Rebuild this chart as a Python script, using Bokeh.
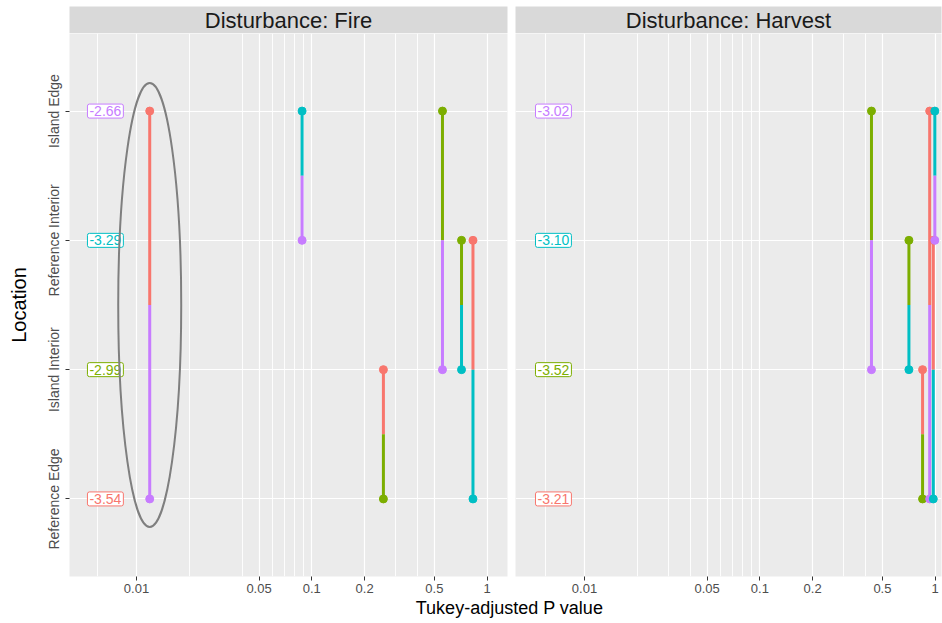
import math
from bokeh.plotting import figure
from bokeh.models import (Range1d, FixedTicker, NumeralTickFormatter, ColumnDataSource, Label)
from bokeh.layouts import row, column
from bokeh.embed import file_html
from bokeh.resources import INLINE
from bokeh.core.properties import value

# ---------------- data ----------------
locations = ["Reference Edge", "Island Interior", "Reference Interior", "Island Edge"]  # bottom -> top
loc_colors = ["#F8766D", "#7CAE00", "#00BFC4", "#C77CFF"]

x_breaks = [0.01, 0.05, 0.1, 0.2, 0.5, 1]
x_minor_fire = [0.006, 0.02, 0.04, 0.06, 0.07, 0.08, 0.09, 0.3, 0.4]
x_minor_harvest = [0.006, 0.02, 0.03, 0.04, 0.06, 0.07, 0.08, 0.09, 0.3, 0.4]

panels = ["Disturbance: Fire", "Disturbance: Harvest"]

fire_loc1 = ["Island Edge", "Island Edge", "Island Interior", "Island Edge", "Reference Interior", "Reference Interior"]
fire_loc2 = ["Reference Edge", "Reference Interior", "Reference Edge", "Island Interior", "Island Interior", "Reference Edge"]
fire_p = [0.0119, 0.088, 0.256, 0.556, 0.714, 0.83]

harvest_loc1 = ["Island Edge", "Reference Interior", "Island Interior", "Island Edge", "Reference Interior", "Island Edge"]
harvest_loc2 = ["Island Interior", "Island Interior", "Reference Edge", "Reference Edge", "Reference Edge", "Reference Interior"]
harvest_p = [0.433, 0.708, 0.847, 0.93, 0.975, 0.995]

fire_means = [-3.54, -2.99, -3.29, -2.66]      # same order as locations
harvest_means = [-3.21, -3.52, -3.10, -3.02]

# highlighted comparison in the fire panel (index into fire lists)
highlight_idx = 0

FONT = "Liberation Sans"
PANEL_BG = "#EBEBEB"
STRIP_BG = "#D9D9D9"
LABEL_X = 0.00665


def ypos(loc):
    return locations.index(loc) + 1


def col(loc):
    return loc_colors[locations.index(loc)]


def build_panel(loc1, loc2, pvals, means, minor, xr, width, show_y, border_left, border_right):
    p = figure(width=width, height=565, x_axis_type="log", x_range=xr,
               y_range=Range1d(0.4, 4.6), output_backend="svg", toolbar_location=None,
               min_border_left=border_left, min_border_right=border_right,
               min_border_top=0, min_border_bottom=22,
               background_fill_color=PANEL_BG, border_fill_color="white",
               outline_line_color=None,
               y_axis_location="left" if show_y else None)
    # grids
    p.xaxis.ticker = FixedTicker(ticks=x_breaks, minor_ticks=minor)
    p.xaxis.formatter = NumeralTickFormatter(format="0.[00]")
    p.xgrid.grid_line_color = "white"
    p.xgrid.grid_line_width = 1.2
    p.xgrid.minor_grid_line_color = "white"
    p.xgrid.minor_grid_line_width = 0.9
    p.ygrid.ticker = FixedTicker(ticks=[1, 2, 3, 4])
    p.ygrid.grid_line_color = "white"
    p.ygrid.grid_line_width = 1.2

    p.xaxis.axis_line_color = None
    p.xaxis.major_tick_out = 4
    p.xaxis.major_tick_in = 0
    p.xaxis.minor_tick_out = 0
    p.xaxis.minor_tick_in = 0
    p.xaxis.major_tick_line_color = "#333333"
    p.xaxis.major_label_text_font = FONT
    p.xaxis.major_label_text_font_size = "13px"
    p.xaxis.major_label_text_color = "#4D4D4D"
    p.xaxis.major_label_standoff = 3

    if show_y:
        p.yaxis.ticker = FixedTicker(ticks=[1, 2, 3, 4])
        p.yaxis.major_label_overrides = {i + 1: loc for i, loc in enumerate(locations)}
        p.yaxis.major_label_orientation = "parallel"
        p.yaxis.axis_line_color = None
        p.yaxis.major_tick_out = 4
        p.yaxis.major_tick_in = 0
        p.yaxis.minor_tick_out = 0
        p.yaxis.minor_tick_in = 0
        p.yaxis.major_tick_line_color = "#333333"
        p.yaxis.major_label_text_font = FONT
        p.yaxis.major_label_text_font_size = "14px"
        p.yaxis.major_label_text_color = "#4D4D4D"
        p.yaxis.major_label_standoff = 3
        p.yaxis.axis_label = "Location"
        p.yaxis.axis_label_text_font = FONT
        p.yaxis.axis_label_text_font_size = "20px"
        p.yaxis.axis_label_text_font_style = "normal"
        p.yaxis.axis_label_text_color = "black"
        p.yaxis.axis_label_standoff = 14

    # half segments + points
    sx, sy0, sy1, sc = [], [], [], []
    px, py, pc = [], [], []
    for a, b, pv in zip(loc1, loc2, pvals):
        ya, yb = ypos(a), ypos(b)
        ym = (ya + yb) / 2
        sx += [pv, pv]
        sy0 += [ya, yb]
        sy1 += [ym, ym]
        sc += [col(b), col(a)]
        px += [pv, pv]
        py += [ya, yb]
        pc += [col(b), col(a)]
    p.segment(x0="x", y0="y0", x1="x", y1="y1", color="c", line_width=3,
              source=ColumnDataSource(dict(x=sx, y0=sy0, y1=sy1, c=sc)))
    p.scatter(x="x", y="y", color="c", size=8,
              source=ColumnDataSource(dict(x=px, y=py, c=pc)))

    # mean labels
    lab = ColumnDataSource(dict(
        x=[LABEL_X] * len(locations),
        y=[i + 1 for i in range(len(locations))],
        t=["%.2f" % m for m in means],
        c=loc_colors))
    p.text(x="x", y="y", text="t", source=lab, text_color="c",
           border_line_color="c", border_line_width=1,
           background_fill_color="white",
           text_align="center", text_baseline="middle",
           text_font=value(FONT), text_font_size="14px",
           padding=2, border_radius=2)
    return p


fire = build_panel(fire_loc1, fire_loc2, fire_p, fire_means, x_minor_fire,
                   Range1d(0.00415, 1.306), 515, True, 69, 8)
harvest = build_panel(harvest_loc1, harvest_loc2, harvest_p, harvest_means, x_minor_harvest,
                      Range1d(0.00404, 1.086), 427, False, 0, 1)

# highlight ellipse around the significant comparison
h1, h2 = fire_loc1[highlight_idx], fire_loc2[highlight_idx]
fire.ellipse(x=[fire_p[highlight_idx]], y=[(ypos(h1) + ypos(h2)) / 2],
             width=63, height=444, width_units="screen", height_units="screen",
             fill_alpha=0, line_color="#7F7F7F", line_width=2)


def strip(text, width, border_left, border_right):
    s = figure(width=width, height=33, x_range=Range1d(0, 1), y_range=Range1d(0, 1),
               output_backend="svg", toolbar_location=None,
               min_border_left=border_left, min_border_right=border_right,
               min_border_top=6, min_border_bottom=0,
               background_fill_color=STRIP_BG, border_fill_color="white",
               outline_line_color=None, x_axis_location=None, y_axis_location=None)
    s.xgrid.visible = False
    s.ygrid.visible = False
    s.add_layout(Label(x=0.5, y=0.5, text=text, text_align="center", text_baseline="middle",
                       text_font=FONT, text_font_size="22px", text_color="#1A1A1A"))
    return s


strip_fire = strip(panels[0], 515, 69, 8)
strip_harvest = strip(panels[1], 427, 0, 1)

xlab = figure(width=942, height=25, x_range=Range1d(0, 1), y_range=Range1d(0, 1),
              output_backend="svg", toolbar_location=None, min_border=0,
              border_fill_color="white", background_fill_color="white",
              outline_line_color=None, x_axis_location=None, y_axis_location=None)
xlab.xgrid.visible = False
xlab.ygrid.visible = False
xlab.add_layout(Label(x=509, y=16, x_units="screen", y_units="screen",
                      text="Tukey-adjusted P value", text_align="center",
                      text_baseline="middle", text_font=FONT,
                      text_font_size="18px", text_color="black"))

layout = column(row(strip_fire, strip_harvest), row(fire, harvest), xlab)

open("out.html", "w").write(file_html(layout, INLINE))
